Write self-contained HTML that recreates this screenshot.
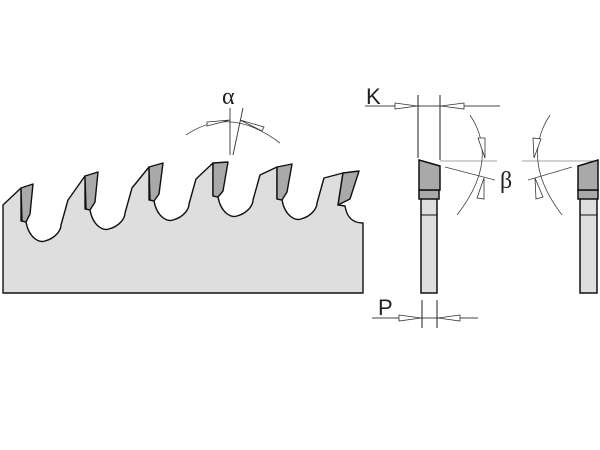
<!DOCTYPE html>
<html><head><style>body{margin:0;background:#fff}svg{display:block}</style></head><body>
<svg width="600" height="450" viewBox="0 0 600 450" xmlns="http://www.w3.org/2000/svg">
<rect width="600" height="450" fill="#fff"/>
<path fill="#dedede" stroke="#111" stroke-width="1.4" stroke-linejoin="round" d="
M3,293 L3,205 L21,188 L21,221 L26,222 C29,238 39,243 45,241 C56,238 61,230 61,225 L68,200 L85,176
L85,209 L90,210 C93,226 103,231 109,229 C120,226 125,218 125,213 L132,188 L149,167
L149,200 L154,201 C157,217 167,222 173,220 C184,217 189,209 189,204 L196,179 L213,163
L213,196 L218,197 C221,213 231,218 237,216 C248,213 253,205 253,200 L260,175 L277,167
L277,199 L282,200 C285,216 295,221 301,219 C312,216 317,208 317,203 L324,178 L343,173
L338,205 L345,206 C347,218 353,223 363,223 L363,293 Z"/>
<g fill="#a9a9a9" stroke="#111" stroke-width="1.4" stroke-linejoin="round">
<path d="M21,188 L33,184 L30,214 L26,222 L22,221 Z"/>
<path d="M85,176 L98,172 L95,202 L90,210 L86,209 Z"/>
<path d="M149,167 L163,163 L159,194 L154,201 L150,200 Z"/>
<path d="M213,163 L228,162 L223,191 L218,197 L213,196 Z"/>
<path d="M277,167 L292,164 L287,192 L282,200 L277,199 Z"/>
<path d="M343,173 L359,171 L350,199 L338,205 Z"/>
</g>
<text x="222" y="104" font-family="Liberation Serif, serif" font-size="24" fill="#222">α</text>
<path d="M186,135 Q230,105 280,143" fill="none" stroke="#444" stroke-width="0.8"/>
<line x1="230" y1="108" x2="230" y2="155" stroke="#333" stroke-width="0.9"/>
<line x1="243" y1="108" x2="233" y2="155" stroke="#333" stroke-width="0.9"/>
<path d="M207,122 L230,120 L207,126 Z" fill="#fff" stroke="#333" stroke-width="0.8"/>
<path d="M264,127 L240,120 L262,131 Z" fill="#fff" stroke="#333" stroke-width="0.8"/>
<text x="366" y="104" font-family="Liberation Sans, sans-serif" font-size="22" fill="#222">K</text>
<line x1="365" y1="106" x2="500" y2="106" stroke="#444" stroke-width="0.9"/>
<line x1="418" y1="95" x2="418" y2="158" stroke="#222" stroke-width="1"/>
<line x1="440" y1="95" x2="440" y2="160" stroke="#222" stroke-width="1"/>
<path d="M395,103 L417,106 L395,109 Z" fill="#fff" stroke="#333" stroke-width="0.8"/>
<path d="M464,103 L441,106 L464,109 Z" fill="#fff" stroke="#333" stroke-width="0.8"/>
<line x1="440" y1="161" x2="497" y2="161" stroke="#888" stroke-width="0.8"/>
<line x1="522" y1="161" x2="598" y2="161" stroke="#888" stroke-width="0.8"/>
<text x="500" y="188" font-family="Liberation Serif, serif" font-size="24" fill="#222">β</text>
<path d="M470,115 Q500,160 457,215" fill="none" stroke="#444" stroke-width="0.8"/>
<path d="M550,115 Q520,160 562,215" fill="none" stroke="#444" stroke-width="0.8"/>
<line x1="445" y1="167" x2="495" y2="180" stroke="#444" stroke-width="0.8"/>
<line x1="528" y1="180" x2="572" y2="167" stroke="#444" stroke-width="0.8"/>
<path d="M478,138 L485,158 L485,138 Z" fill="#fff" stroke="#333" stroke-width="0.8"/>
<path d="M477,198 L484,178 L484,199 Z" fill="#fff" stroke="#333" stroke-width="0.8"/>
<path d="M533,138 L534,158 L541,139 Z" fill="#fff" stroke="#333" stroke-width="0.8"/>
<path d="M535,178 L536,199 L543,197 Z" fill="#fff" stroke="#333" stroke-width="0.8"/>
<g stroke="#111" stroke-width="1.5">
<rect x="421" y="198" width="16" height="95" fill="#dedede"/>
<line x1="421" y1="215" x2="437" y2="215" stroke-width="1"/>
<rect x="419" y="190" width="20" height="9" fill="#a9a9a9"/>
<path d="M419,160 L440,166 L440,190 L419,190 Z" fill="#a9a9a9"/>
<rect x="580" y="198" width="17" height="95" fill="#dedede"/>
<line x1="580" y1="215" x2="597" y2="215" stroke-width="1"/>
<rect x="578" y="190" width="20" height="9" fill="#a9a9a9"/>
<path d="M578,166 L598,160 L598,190 L578,190 Z" fill="#a9a9a9"/>
</g>
<text x="378" y="315" font-family="Liberation Sans, sans-serif" font-size="22" fill="#222">P</text>
<line x1="372" y1="318" x2="478" y2="318" stroke="#444" stroke-width="0.9"/>
<line x1="422" y1="300" x2="422" y2="328" stroke="#222" stroke-width="1"/>
<line x1="437" y1="300" x2="437" y2="328" stroke="#222" stroke-width="1"/>
<path d="M399,315 L421,318 L399,321 Z" fill="#fff" stroke="#333" stroke-width="0.8"/>
<path d="M460,315 L438,318 L460,321 Z" fill="#fff" stroke="#333" stroke-width="0.8"/>
</svg>
</body></html>
